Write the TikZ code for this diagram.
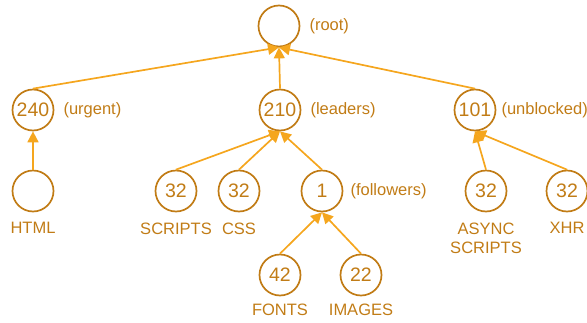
\documentclass[tikz,border=0pt]{standalone}
\usepackage{fontspec}
\setmainfont{Liberation Sans}
\usepackage{tikz}
\usetikzlibrary{arrows.meta,positioning}
\definecolor{ringorange}{RGB}{193,124,22}
\definecolor{linkorange}{RGB}{245,166,30}
\tikzstyle{vertex}=[draw=ringorange,text=ringorange,circle,line width=1.7pt,minimum size=41pt,inner sep=0pt,font=\fontsize{19.5}{19.5}\selectfont]
\tikzstyle{tag}=[text=ringorange,inner sep=0pt,font=\fontsize{16.5}{19}\selectfont]
\tikzstyle{link}=[draw=linkorange,line width=1.7pt,-{Triangle[length=11pt,width=11pt]}]

\begin{document}
\begin{tikzpicture}[x=1pt,y=-1pt]
\useasboundingbox (0,0) rectangle (587,322);
% stream tree
\node [vertex] (root) at (279,26) {};
\node [vertex] (n240) at (33,110) {240};
\node [vertex] (n210) at (280,110) {210};
\node [vertex] (n101) at (475,110) {101};
\node [vertex] (html) at (33,191) {};
\node [vertex] (scripts) at (176,191) {32};
\node [vertex] (css) at (239,191) {32};
\node [vertex] (n1) at (322,191) {1};
\node [vertex] (async) at (486,191) {32};
\node [vertex] (xhr) at (567,191) {32};
\node [vertex] (fonts) at (280,275) {42};
\node [vertex] (images) at (361,275) {22};

% weights and names
\node [tag,right=9pt of root] (troot) {(root)};
\node [tag,right=9pt of n240] (t240) {(urgent)};
\node [tag,right=9pt of n210] (t210) {(leaders)};
\node [tag,right=5pt of n101] (t101) {(unblocked)};
\node [tag,right=7pt of n1] (t1) {(followers)};
\node [tag,below=10pt of html] (thtml) {HTML};
\node [tag,below=10pt of scripts] (tscripts) {SCRIPTS};
\node [tag,below=10pt of css] (tcss) {CSS};
\node [tag,below=10pt of async,align=center] (tasync) {ASYNC\\SCRIPTS};
\node [tag,below=10pt of xhr] (txhr) {XHR};
\node [tag,below=7pt of fonts] (tfonts) {FONTS};
\node [tag,below=7pt of images] (timages) {IMAGES};

% dependencies point up to the parent
\draw [link] (n240.north) -- (root.south);
\draw [link] (n210.north) -- (root.south);
\draw [link] (n101.north) -- (root.south);
\draw [link] (html.north) -- (n240.south);
\draw [link] (scripts.north) -- (n210.south);
\draw [link] (css.north) -- (n210.south);
\draw [link] (n1.north) -- (n210.south);
\draw [link] (fonts.north) -- (n1.south);
\draw [link] (images.north) -- (n1.south);
\draw [link] (async.north) -- (n101.south);
\draw [link] (xhr.north) -- (n101.south);
\end{tikzpicture}
\end{document}
